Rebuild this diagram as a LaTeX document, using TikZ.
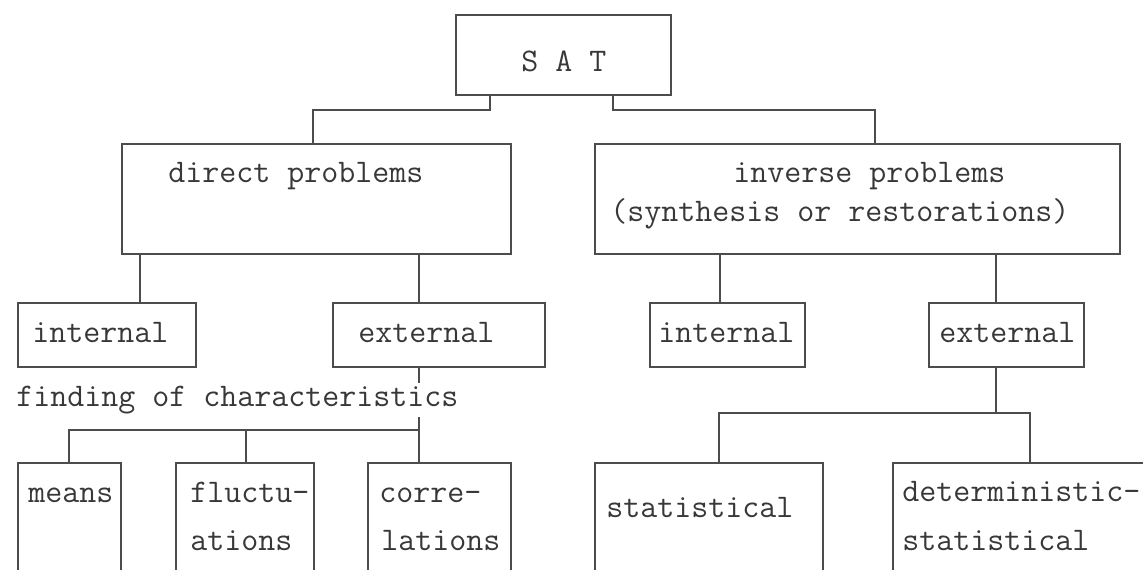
\documentclass[tikz,border=0pt]{standalone}
\usetikzlibrary{calc}
\definecolor{linecol}{gray}{0.30}
\definecolor{txtcol}{gray}{0.22}
\begin{document}
\begin{tikzpicture}[x=0.5pt,y=-0.5pt,
  box/.style={draw=linecol, line width=0.8pt, rectangle, inner sep=0pt, anchor=north west},
  lbl/.style={text=txtcol, font=\ttfamily\fontsize{16.5}{20}\selectfont, inner sep=0pt, anchor=base west},
  conn/.style={draw=linecol, line width=0.8pt}]
\useasboundingbox (0,0) rectangle (1143,569);
\clip (0,0) rectangle (1143,569);
% boxes
\node[box, minimum width=107.5pt, minimum height=40pt] (sat) at (455,14) {};
\node[box, minimum width=194.5pt, minimum height=55pt] (dir) at (121,143) {};
\node[box, minimum width=262.5pt, minimum height=55pt] (inv) at (594,143) {};
\node[box, minimum width=89pt, minimum height=32pt] (intL) at (17,302) {};
\node[box, minimum width=106pt, minimum height=32pt] (extL) at (332,302) {};
\node[box, minimum width=77.5pt, minimum height=32pt] (intR) at (649,302) {};
\node[box, minimum width=77.5pt, minimum height=32pt] (extR) at (928,302) {};
\node[box, minimum width=51.5pt, minimum height=75pt] (means) at (17,462) {};
\node[box, minimum width=69pt, minimum height=75pt] (fluct) at (175,462) {};
\node[box, minimum width=71.5pt, minimum height=75pt] (corr) at (367,462) {};
\node[box, minimum width=114pt, minimum height=75pt] (stat) at (594,462) {};
\node[box, minimum width=154pt, minimum height=75pt] (det) at (892,462) {};
% junction points
\coordinate (j1) at (490,110); \coordinate (j2) at (313,110);
\coordinate (j3) at (613,110); \coordinate (j4) at (875,110);
\coordinate (k1) at (140,280); \coordinate (k2) at (419,280);
\coordinate (k3) at (720,280); \coordinate (k4) at (996,280);
\coordinate (m0) at (419,430); \coordinate (m1) at (69,430); \coordinate (m2) at (246,430);
\coordinate (r0) at (996,413); \coordinate (r1) at (719,413); \coordinate (r2) at (1030,413);
% connectors
\draw[conn] (sat.south -| j1) -- (j1) -- (j2) -- (dir.north -| j2);
\draw[conn] (sat.south -| j3) -- (j3) -- (j4) -- (inv.north -| j4);
\draw[conn] (dir.south -| k1) -- (intL.north -| k1);
\draw[conn] (dir.south -| k2) -- (extL.north -| k2);
\draw[conn] (inv.south -| k3) -- (intR.north -| k3);
\draw[conn] (inv.south -| k4) -- (extR.north -| k4);
\draw[conn] (extL.south -| m0) -- (m0) -- (m1) -- (means.north -| m1);
\draw[conn] (m2) -- (fluct.north -| m2);
\draw[conn] (m0) -- (corr.north -| m0);
\draw[conn] (extR.south -| r0) -- (r0);
\draw[conn] (stat.north -| r1) -- (r1) -- (r2) -- (det.north -| r2);
% texts
\node[lbl] (satT) at (521,71) {S A T};
\node[lbl] (dirT) at (168,182) {direct problems};
\node[lbl] (invT1) at (733,182) {inverse problems};
\node[lbl] (invT2) at (610,221) {(synthesis or restorations)};
\node[lbl] (intLT) at (32,342) {internal};
\node[lbl] (extLT) at (358,342) {external};
\node[lbl] (intRT) at (658,342) {internal};
\node[lbl] (extRT) at (939,342) {external};
\node[lbl, fill=white, inner sep=1.5pt] (fin) at (13,406) {finding of characteristics};
\node[lbl] (meansT) at (28,502) {means};
\node[lbl] (flT1) at (190,502) {fluctu-};
\node[lbl] (flT2) at (190,550) {ations};
\node[lbl] (coT1) at (379,502) {corre-};
\node[lbl] (coT2) at (381,550) {lations};
\node[lbl] (stT) at (606,517) {statistical};
\node[lbl] (deT1) at (902,501) {deterministic-};
\node[lbl] (deT2) at (902,550) {statistical};
\end{tikzpicture}
\end{document}
